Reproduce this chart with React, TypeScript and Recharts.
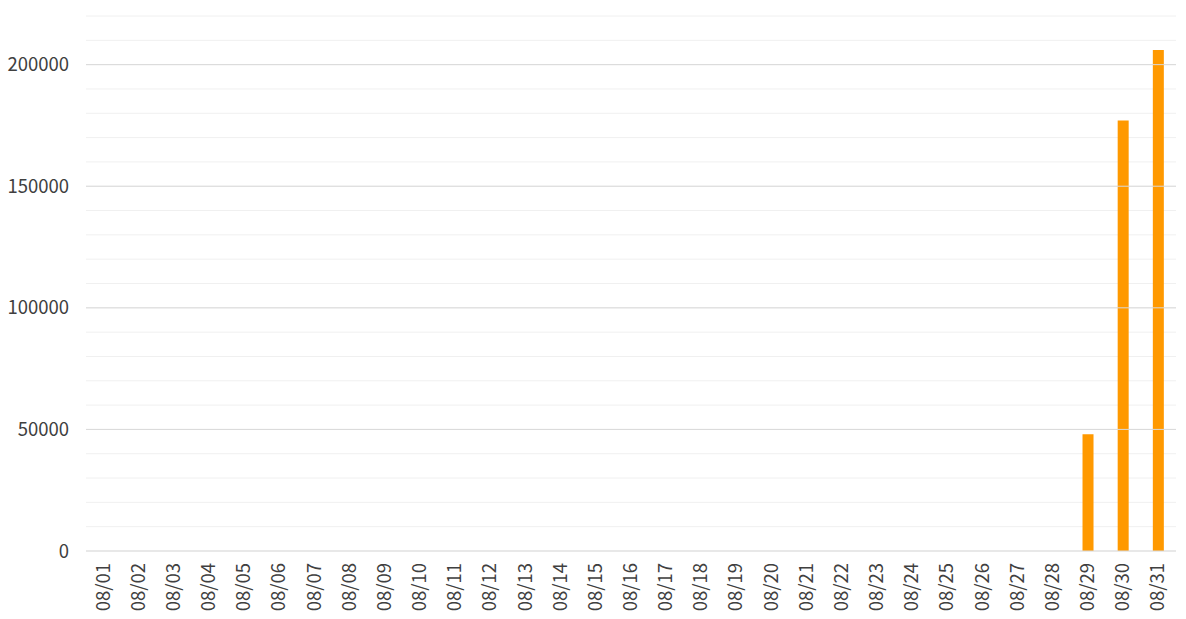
import React from 'react'
import { BarChart, Bar, XAxis, YAxis, CartesianGrid, ReferenceLine } from 'recharts'

const DAYS = Array.from({ length: 31 }, (_, i) => `08/${String(i + 1).padStart(2, '0')}`)
const VALUES = [
  0, 0, 0, 0, 0, 0, 0, 0, 0, 0,
  0, 0, 0, 0, 0, 0, 0, 0, 0, 0,
  0, 0, 0, 0, 0, 0, 0, 0, 48000, 177000, 206000,
]
const Y_TICKS = [0, 10000, 20000, 30000, 40000, 50000, 60000, 70000, 80000, 90000, 100000,
  110000, 120000, 130000, 140000, 150000, 160000, 170000, 180000, 190000, 200000, 210000, 220000]
const MAJOR_TICKS = [50000, 100000, 150000, 200000]

const FONT = '"Noto Sans CJK JP", "Noto Sans", sans-serif'
const TEXT = '#404040'

const data = DAYS.map((day, i) => ({ day, value: VALUES[i] }))

function DayTick(props: { x?: number; y?: number; payload?: { value: string } }) {
  const { x = 0, y = 0, payload } = props
  return (
    <text
      transform={`translate(${x - 2},${y}) rotate(-90)`}
      textAnchor="end"
      dominantBaseline="central"
      fill={TEXT}
      fontSize={18.5}
      fontFamily={FONT}
    >
      {payload?.value}
    </text>
  )
}

export default function App() {
  return (
    <div style={{ position: 'absolute', left: 0, top: 0, background: '#fff' }}>
      <BarChart
        width={1186}
        height={619}
        data={data}
        margin={{ top: 16, right: 10, bottom: 0, left: 0 }}
      >
        <CartesianGrid vertical={false} stroke="#f0f0f0" strokeWidth={1} />
        {MAJOR_TICKS.map((v) => (
          <ReferenceLine key={v} y={v} stroke="#d9d9d9" strokeWidth={1} />
        ))}
        <XAxis
          dataKey="day"
          interval={0}
          height={68}
          tickSize={0}
          tickMargin={12}
          tick={<DayTick />}
          axisLine={{ stroke: '#d9d9d9' }}
        />
        <YAxis
          width={86}
          domain={[0, 220000]}
          ticks={Y_TICKS}
          interval={0}
          tickSize={0}
          tickMargin={17}
          axisLine={false}
          tickLine={false}
          tickFormatter={(v: number) => (v % 50000 === 0 && v <= 200000 ? String(v) : '')}
          tick={{ fontSize: 18.5, fill: TEXT, fontFamily: FONT }}
        />
        <Bar dataKey="value" fill="#ff9900" barSize={11} isAnimationActive={false} />
      </BarChart>
    </div>
  )
}
